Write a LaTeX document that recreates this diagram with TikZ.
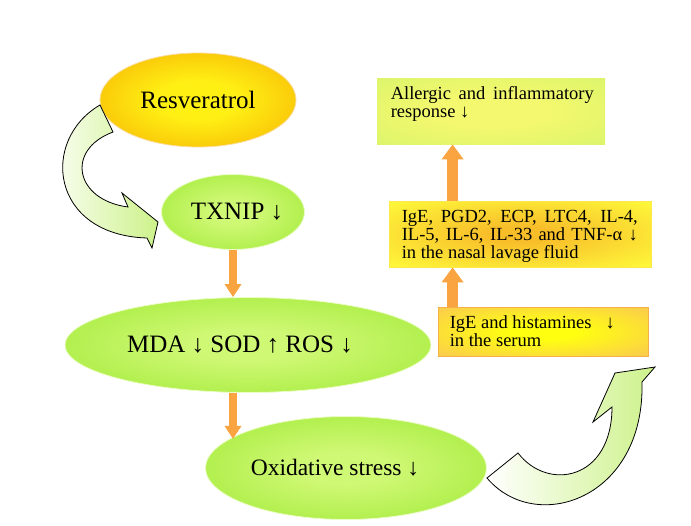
\documentclass[tikz,border=0pt]{standalone}
\usepackage{fontspec}
\setmainfont{Liberation Serif}
\usetikzlibrary{arrows.meta,shapes.geometric,calc}
\definecolor{gin}{HTML}{CFF874}
\definecolor{gout}{HTML}{96E72A}
\definecolor{resin}{HTML}{FFF014}
\definecolor{resout}{HTML}{F5A800}
\definecolor{arrorange}{HTML}{F9A441}
\definecolor{algin}{HTML}{F4F86E}
\definecolor{algout}{HTML}{D3F46A}
\definecolor{igein}{HTML}{F8BE2A}
\definecolor{igeout}{HTML}{FFFF3C}
\definecolor{igeborder}{HTML}{FFE84A}
\definecolor{serin}{HTML}{FFFF10}
\definecolor{serout}{HTML}{F9BE5E}
\definecolor{serborder}{HTML}{F5B04A}
\definecolor{cgreen}{HTML}{CDF28A}
\pgfdeclareradialshading{greenglow}{\pgfpointorigin}{color(0bp)=(gin); color(8bp)=(gin); color(42bp)=(gout); color(50bp)=(gout)}
\pgfdeclareradialshading{resglow}{\pgfpointorigin}{color(0bp)=(resin); color(10bp)=(resin); color(40bp)=(resout); color(50bp)=(resout)}
\pgfdeclareradialshading{algglow}{\pgfpointorigin}{color(0bp)=(algin); color(12bp)=(algin); color(45bp)=(algout); color(50bp)=(algout)}
\pgfdeclareradialshading{igeglow}{\pgfpointorigin}{color(0bp)=(igein); color(6bp)=(igein); color(38bp)=(igeout); color(50bp)=(igeout)}
\pgfdeclareradialshading{serglow}{\pgfpointorigin}{color(0bp)=(serin); color(8bp)=(serin); color(42bp)=(serout); color(50bp)=(serout)}
\tikzset{
  ell/.style={ellipse, inner sep=0pt, draw=white!60!gin, line width=0.8pt, shade, shading=greenglow, font=\fontsize{25}{27}\selectfont},
  oarrow/.style={draw=arrorange, line width=7.5pt, -{Triangle[width=16pt,length=13pt]}},
  barrow/.style={draw=arrorange, line width=11pt, -{Triangle[width=21pt,length=15pt]}},
  boxshape/.style={rectangle, inner sep=0pt, line width=0.8pt, shade},
  boxtxt/.style={inner sep=0pt, anchor=north west, align=justify, font=\fontsize{18.5}{18}\selectfont},
  curvy/.style={draw=black, line width=0.8pt, left color=white, right color=cgreen},
}
\begin{document}
\begin{tikzpicture}[x=1pt,y=-1pt]
\fill[white] (0,0) rectangle (691,525);
\useasboundingbox (0,0) rectangle (691,525);

% ellipses
\node[ell, shading=resglow, draw=white!60!resout, minimum width=196pt, minimum height=94pt] (res) at (198,100) {Resveratrol};
\node[ell, minimum width=143pt, minimum height=75pt] (txnip) at (233,212) {\rule{8pt}{0pt}TXNIP ↓};
\node[ell, minimum width=366pt, minimum height=95pt] (mda) at (248,345) {MDA ↓ SOD ↑ ROS ↓\rule{16pt}{0pt}};
\node[ell, minimum width=281pt, minimum height=103pt, font=\fontsize{23.5}{25}\selectfont] (ox) at (346,468) {Oxidative stress ↓\rule{22pt}{0pt}};

% boxes
\node[boxshape, shading=algglow, minimum width=228pt, minimum height=66pt] (allergic) at (491,111) {};
\node[boxshape, shading=igeglow, draw=igeborder, minimum width=262pt, minimum height=66pt] (ige) at (520,234) {};
\node[boxshape, shading=serglow, draw=serborder, minimum width=210pt, minimum height=49pt] (serum) at (543,331.5) {};

\node[boxtxt, text width=203pt] (allergictext) at ($(allergic.north west)+(14,9)$) {Allergic and inflammatory response ↓};
\node[boxtxt, text width=236pt] (igetext) at ($(ige.north west)+(13,9)$) {IgE, PGD2, ECP, LTC4, IL-4,\linebreak IL-5, IL-6, IL-33 and TNF-α ↓\linebreak in the nasal lavage fluid};
\node[boxtxt, align=left] (serumtext) at ($(serum.north west)+(12,9)$) {IgE and histamines\hspace{14pt}↓\\in the serum};

% straight orange arrows
\draw[oarrow] (txnip.south) -- (txnip.south |- mda.north);
\draw[oarrow] (txnip.south |- mda.south) -- (txnip.south |- ox.166);
\draw[barrow] ($(serum.north west)+(15,0)$) -- ($(ige.south west)+(64,0)$);
\draw[barrow] ($(ige.north west)+(64,0)$) -- ($(allergic.south west)+(76,0)$);

% curved arrows
\draw[curvy] (100,105) .. controls (40,140) and (50,235) .. (147,238) -- (152,248) -- (158,222) -- (122,193) -- (128,207) .. controls (75,200) and (65,150) .. (113,132) -- cycle;
\draw[curvy] (487,478) .. controls (535,535) and (645,500) .. (642,382) -- (655,367) -- (615,373) -- (593,422) -- (612,407) .. controls (612,480) and (548,492) .. (518,453) -- cycle;
\end{tikzpicture}
\end{document}
